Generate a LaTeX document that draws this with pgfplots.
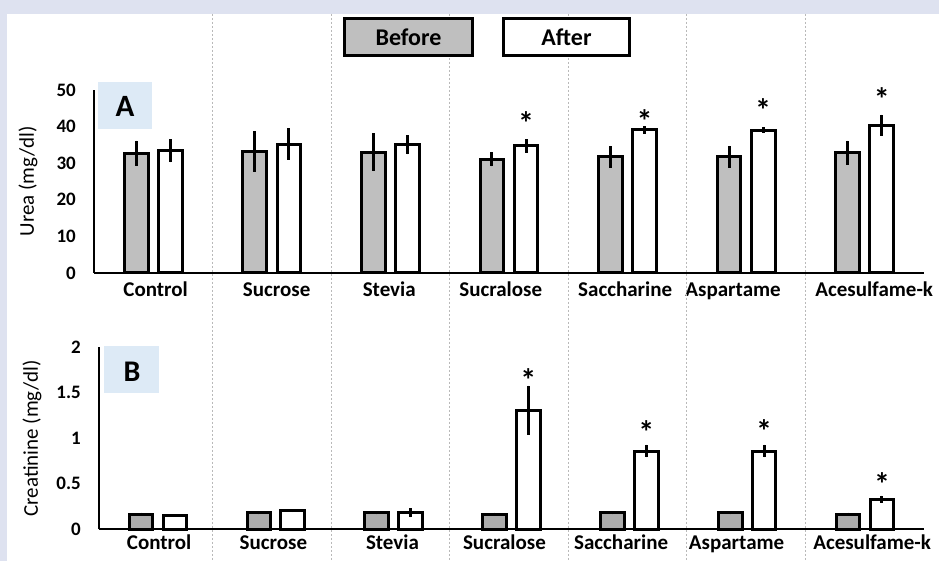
\documentclass[border=0pt]{standalone}
\usepackage{fontspec}
\setmainfont{Carlito}
\usepackage{pgfplots}
\pgfplotsset{compat=1.18}
\usepackage{pgfplotstable}

\definecolor{bgl}{RGB}{222,226,240}
\definecolor{barA}{RGB}{191,191,191}
\definecolor{barB}{RGB}{172,172,172}
\definecolor{lblbox}{RGB}{221,234,246}
\definecolor{sepc}{RGB}{185,185,185}

\pgfplotstableread{
x b be a ae
0 32.7 3.5 33.4 3.2
1 33.2 5.5 35.2 4.3
2 33.0 5.2 35.0 2.6
3 31.1 2.0 34.7 1.9
4 31.7 3.0 39.1 1.0
5 31.7 3.0 39.0 0.8
6 32.9 3.3 40.4 2.9
}\urea

\pgfplotstableread{
x b be a ae
0 0.168 0.015 0.157 0.008
1 0.180 0.015 0.204 0.015
2 0.180 0.015 0.180 0.050
3 0.168 0.015 1.310 0.270
4 0.180 0.015 0.860 0.070
5 0.180 0.015 0.860 0.070
6 0.168 0.015 0.330 0.040
}\creat

\tikzset{astk/.style={font=\bfseries\fontsize{32}{32}\selectfont, anchor=base, inner sep=0pt, yshift=-17.3pt}}

\pgfplotsset{
 common/.style={
  scale only axis, ybar, bar width=0.2, xmin=-0.5, xmax=6.5,
  clip=false,
  axis x line*=bottom, axis y line*=left,
  axis line style={-, line width=2pt},
  major tick length=0pt,
  xticklabels={Control,Sucrose,Stevia,Sucralose,Saccharine,Aspartame,Acesulfame-k},
  yticklabel style={font=\bfseries\fontsize{19}{19}\selectfont, anchor=east, inner sep=0pt, xshift=-18pt},
  /pgf/number format/assume math mode=true,
  every axis plot/.append style={draw=black, line width=3pt},
  error bars/y dir=both, error bars/y explicit, error bars/error mark=none,
  error bars/error bar style={line width=3pt, black},
 },
}

\begin{document}
\begin{tikzpicture}
\fill[bgl] (0,0) rectangle (939pt,561pt);
\fill[white] (7pt,0) rectangle (939pt,547pt);
\fill[lblbox] (98pt,432pt) rectangle (152pt,479pt);
\fill[lblbox] (104pt,168pt) rectangle (159pt,215pt);
\node[font=\bfseries\fontsize{31}{31}\selectfont, inner sep=0pt] at (125pt,455pt) {A};
\node[font=\bfseries\fontsize{30}{30}\selectfont, inner sep=0pt] at (132pt,189pt) {B};

\begin{axis}[common,
  width=830pt, height=183pt, at={(94pt,288pt)}, anchor=south west,
  ymin=0, ymax=50, ytick={0,10,...,50},
  xtick={0.02,1.04,1.99,2.93,3.98,4.89,6.08},
  xticklabel style={font=\bfseries\fontsize{21}{21}\selectfont, anchor=base, inner sep=0pt, yshift=-23.5pt},
  ylabel={Urea (mg/dl)},
  every axis y label/.style={at={(axis description cs:-0.0795,0.5)}, rotate=90, anchor=center, font=\fontsize{21}{21}\selectfont},
]
\pgfplotsinvokeforeach{0.5,1.5,2.5,3.5,4.5,5.5}{
  \draw[sepc, dash pattern=on 2pt off 2pt, line width=0.8pt] (axis cs:#1,70.8) -- (axis cs:#1,-78.7);
}
\addplot[fill=barA, bar shift=-0.1435] table[x=x, y=b, y error=be] {\urea};
\addplot[fill=white, bar shift=0.1435] table[x=x, y=a, y error=ae] {\urea};
\node[astk] at (axis cs:3.1435,42.7) {*};
\node[astk] at (axis cs:4.1435,43.2) {*};
\node[astk] at (axis cs:5.1435,46.2) {*};
\node[astk] at (axis cs:6.1435,49.1) {*};
\end{axis}

\begin{axis}[common,
  width=825pt, height=182pt, at={(99pt,31.7pt)}, anchor=south west,
  ymin=0, ymax=2, ytick={0,0.5,1,1.5,2},
  xtick={0.01,0.98,1.99,2.94,3.93,4.91,6.06},
  xticklabel style={font=\bfseries\fontsize{21}{21}\selectfont, anchor=base, inner sep=0pt, yshift=-20pt},
  yticklabel style={/pgf/number format/.cd, fixed},
  ylabel={Creatinine (mg/dl)},
  every axis y label/.style={at={(axis description cs:-0.0812,0.5)}, rotate=90, anchor=center, font=\fontsize{21}{21}\selectfont},
]
\addplot[fill=barB, bar shift=-0.1435] table[x=x, y=b, y error=be] {\creat};
\addplot[fill=white, bar shift=0.1435] table[x=x, y=a, y error=ae] {\creat};
\node[astk] at (axis cs:3.1435,1.70) {*};
\node[astk] at (axis cs:4.1435,1.13) {*};
\node[astk] at (axis cs:5.1435,1.14) {*};
\node[astk] at (axis cs:6.1435,0.56) {*};
\end{axis}

\node[draw, line width=3pt, fill=barA, minimum width=128pt, minimum height=37pt, inner sep=0pt,
  font=\bfseries\fontsize{24}{24}\selectfont] at (408.5pt,524pt) {Before};
\node[draw, line width=3pt, fill=white, minimum width=126pt, minimum height=37pt, inner sep=0pt,
  font=\bfseries\fontsize{24}{24}\selectfont] at (566.5pt,524pt) {After};

\pgfresetboundingbox
\useasboundingbox (0,0) rectangle (939pt,561pt);
\end{tikzpicture}
\end{document}
